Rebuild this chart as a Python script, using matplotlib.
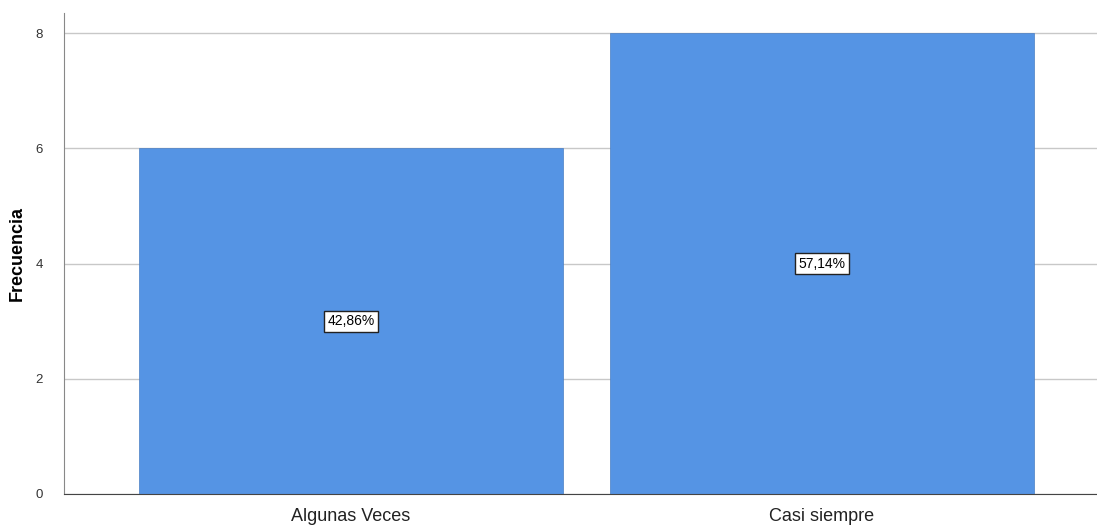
import matplotlib.pyplot as plt

plt.rcParams['font.family'] = ['Liberation Sans', 'DejaVu Sans']

categorias = ['Algunas Veces', 'Casi siempre']
frecuencias = [6, 8]
porcentajes = ['42,86%', '57,14%']
yticks = [0, 2, 4, 6, 8]

fig = plt.figure(figsize=(10.97, 5.27), dpi=100)
ax = fig.add_axes([64/1097, 1 - 494/527, 1 - 64/1097, (494 - 13)/527])

pos = list(range(len(categorias)))
ax.bar(pos, frecuencias, width=0.9, color='#5594E4', edgecolor='#4a7fc4', linewidth=0.5, zorder=2)

for x, h, p in zip(pos, frecuencias, porcentajes):
    ax.text(x, h / 2, p, ha='center', va='center', fontsize=10, zorder=3,
            bbox=dict(boxstyle='square,pad=0.25', facecolor='white', edgecolor='#222222', linewidth=1))

ax.set_xlim(-0.609, 1.584)
ax.set_ylim(0, 8.35)
ax.set_yticks(yticks)
ax.set_yticklabels([str(t) for t in yticks], fontsize=9.5, color='#333333')
ax.set_xticks(pos)
ax.set_xticklabels(categorias, fontsize=13, color='#222222')
ax.tick_params(axis='x', length=0, pad=10)
ax.tick_params(axis='y', length=0, pad=15)
ax.yaxis.grid(True, color='#c8c8c8', linewidth=1, zorder=0)
ax.set_axisbelow(True)

ax.set_ylabel('Frecuencia', fontsize=13, fontweight='bold')
ax.yaxis.set_label_coords(-0.037, 0.5)

ax.spines['right'].set_visible(False)
ax.spines['top'].set_visible(False)
ax.spines['left'].set_color('#888888')
ax.spines['bottom'].set_color('#444444')

fig.savefig('out.png', dpi=100)
